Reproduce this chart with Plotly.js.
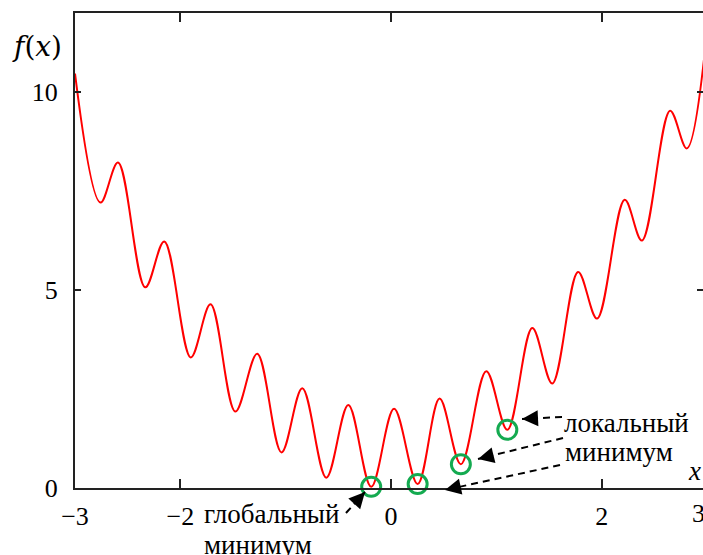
<!DOCTYPE html>
<html>
<head>
<meta charset="utf-8">
<script src="https://cdn.plot.ly/plotly-3.0.1.min.js"></script>
<style>html,body{margin:0;padding:0;background:#fff;}#chart{width:703px;height:555px;}</style>
</head>
<body>
<div id="chart"></div>
<script>
// curve: end points and extrema
const curveX = [-3.00, -2.758, -2.592, -2.333, -2.153, -1.901, -1.714, -1.478, -1.271, -1.040, -0.843, -0.615,
  -0.406, -0.189, 0.028, 0.252, 0.460, 0.662, 0.903, 1.103, 1.340, 1.529, 1.775, 1.954, 2.217, 2.380, 2.648, 2.806, 3.00];
const curveY = [10.47, 7.21, 8.22, 5.07, 6.23, 3.30, 4.64, 1.93, 3.39, 0.90, 2.52, 0.26,
  2.10, 0.03, 2.00, 0.10, 2.26, 0.60, 2.95, 1.47, 4.04, 2.64, 5.46, 4.28, 7.28, 6.25, 9.53, 8.58, 11.6];

// marked minima (green circles)
const minimaX = [-0.189, 0.252, 0.662, 1.103];
const minimaY = [0.03, 0.10, 0.60, 1.47];

// axis ticks
const xTickVals = [-3, -2, 0, 2, 3];
const xTickText = ['\u22123', '\u22122', '0', '2', '3'];
const yTickVals = [0, 5, 10];
const yTickText = ['0', '5', '10'];

const xRange = [-3, 2.96];
const yRange = [0, 12];

const serif = 'Liberation Serif';
const tickFont = {family: serif, size: 26, color: '#000'};
const labelFont = {family: serif, size: 27, color: '#000'};

const inX = xTickVals.map((v, i) => [v, xTickText[i]]).filter(p => p[0] >= xRange[0] && p[0] <= xRange[1]);
const outX = xTickVals.map((v, i) => [v, xTickText[i]]).filter(p => p[0] > xRange[1]);

const traces = [
  {x: curveX, y: curveY, type: 'scatter', mode: 'lines',
   line: {color: 'rgb(255,0,0)', width: 2, shape: 'spline', smoothing: 1}, hoverinfo: 'skip'},
  {x: minimaX, y: minimaY, type: 'scatter', mode: 'markers', cliponaxis: false,
   marker: {symbol: 'circle-open', size: 19, color: 'rgb(20,170,80)', line: {width: 3, color: 'rgb(20,170,80)'}},
   hoverinfo: 'skip'},
  {x: [], y: [], yaxis: 'y2', type: 'scatter', showlegend: false}
];

// arrows: [tailX, tailY, tipX, tipY] in paper fractions
const arrows = [
  [0.4315, -0.0526, 0.4618, -0.0084],
  [0.7755, 0.1495, 0.7118, 0.1453],
  [0.7771, 0.1053, 0.6417, 0.0611],
  [0.7723, 0.0484, 0.5892, -0.0042]
];
const W = 628, H = 475;
const shapes = arrows.map(a => ({type: 'line', xref: 'paper', yref: 'paper',
  x0: a[0], y0: a[1], x1: a[2], y1: a[3], line: {color: '#000', width: 2, dash: '7px,5px'}}));

const annotations = [];
arrows.forEach(a => {
  const dx = (a[0] - a[2]) * W, dy = -(a[1] - a[3]) * H;
  const L = Math.hypot(dx, dy);
  annotations.push({xref: 'paper', yref: 'paper', x: a[2], y: a[3], text: '', showarrow: true,
    arrowhead: 2, arrowsize: 1.6, arrowwidth: 2, arrowcolor: '#000', ax: dx / L * 14, ay: dy / L * 14, standoff: 0});
});
annotations.push(
  {xref: 'paper', yref: 'paper', x: -0.0605, y: 0.9305, text: '<i>f</i>(<i>x</i>)', showarrow: false,
   font: {family: 'DejaVu Serif', size: 28, color: '#000'}, xanchor: 'center', yanchor: 'middle'},
  {xref: 'paper', yref: 'paper', x: 0.9857, y: 0.0358, text: '<i>x</i>', showarrow: false,
   font: labelFont, xanchor: 'center', yanchor: 'middle'},
  {xref: 'paper', yref: 'paper', x: 0.2022, y: -0.0547, text: 'глобальный', showarrow: false,
   font: labelFont, xanchor: 'left', yanchor: 'middle'},
  {xref: 'paper', yref: 'paper', x: 0.2022, y: -0.1200, text: 'минимум', showarrow: false,
   font: labelFont, xanchor: 'left', yanchor: 'middle'},
  {xref: 'paper', yref: 'paper', x: 0.7755, y: 0.1370, text: 'локальный', showarrow: false,
   font: labelFont, xanchor: 'left', yanchor: 'middle'},
  {xref: 'paper', yref: 'paper', x: 0.7771, y: 0.0758, text: 'минимум', showarrow: false,
   font: labelFont, xanchor: 'left', yanchor: 'middle'}
);
outX.forEach(p => annotations.push({xref: 'paper', yref: 'paper',
  x: (p[0] - xRange[0]) / (xRange[1] - xRange[0]), y: 0, yanchor: 'top', yshift: -9,
  text: p[1], showarrow: false, font: tickFont}));

const layout = {
  width: 703, height: 555,
  margin: {l: 75, r: 0, t: 13, b: 67, pad: 0},
  paper_bgcolor: '#fff', plot_bgcolor: '#fff',
  showlegend: false,
  xaxis: {range: xRange, tickmode: 'array', tickvals: inX.map(p => p[0]), ticktext: inX.map(p => p[1]),
    ticks: 'inside', ticklen: 9, tickwidth: 2, tickcolor: '#222', showline: true, linecolor: '#222', linewidth: 2,
    mirror: 'ticks', showgrid: false, zeroline: false, tickfont: tickFont, ticklabelstandoff: 4},
  yaxis: {range: yRange, tickmode: 'array', tickvals: yTickVals, ticktext: yTickText,
    ticks: 'inside', ticklen: 6, tickwidth: 2, tickcolor: '#222', showline: true, linecolor: '#222', linewidth: 2,
    showgrid: false, zeroline: false, tickfont: tickFont, ticklabelstandoff: 10},
  yaxis2: {range: yRange, overlaying: 'y', side: 'right', tickmode: 'array', tickvals: yTickVals,
    ticks: 'inside', ticklen: 6, tickwidth: 2, tickcolor: '#222', showline: false, showticklabels: false,
    showgrid: false, zeroline: false},
  shapes: shapes,
  annotations: annotations
};

Plotly.newPlot('chart', traces, layout, {staticPlot: true, displayModeBar: false});
</script>
</body>
</html>
